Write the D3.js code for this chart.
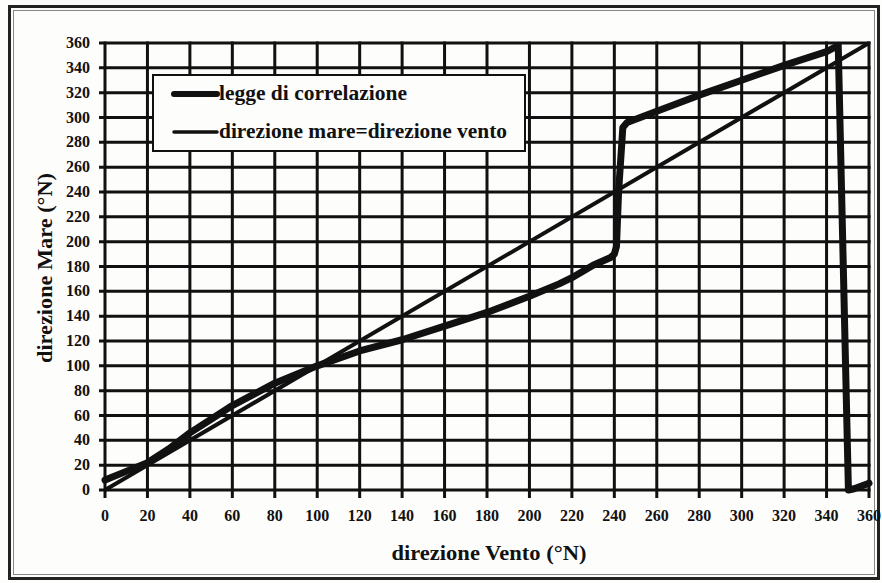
<!DOCTYPE html>
<html>
<head>
<meta charset="utf-8">
<script src="https://cdn.jsdelivr.net/npm/d3@7"></script>
<style>
  html, body { margin: 0; padding: 0; background: #fdfdfb; }
  svg { display: block; }
  text { font-family: "Liberation Serif", "Times New Roman", serif; font-weight: bold; fill: #111; }
</style>
</head>
<body>
<div id="chart"></div>
<script>
// direzione vento (°N) -> direzione mare (°N), legge di correlazione
const windDir = [0, 10, 20, 30, 40, 50, 60, 70, 80, 90, 100, 120, 140, 160, 180, 200, 214, 220, 230, 238, 240,
  241, 242, 244, 246, 260, 280, 300, 320, 340, 345.5, 350.3, 353, 360];
const seaDir = [8, 15, 22, 33, 46, 57, 68, 77, 86, 93, 100, 112, 121, 132, 143, 156, 166, 171, 181, 187, 190,
  196, 240, 292, 296, 305, 318, 330, 342, 353, 358, 0, 1, 5.5];
// bisettrice: direzione mare = direzione vento
const identity = [0, 360];
const xTicks = d3.range(0, 361, 20);
const yTicks = d3.range(0, 361, 20);
const legendLabels = ["legge di correlazione", "direzione mare=direzione vento"];

const W = 882,
  H = 583,
  M = { t: 43, r: 13, b: 93, l: 105 };

const svg = d3
  .select("#chart")
  .append("svg")
  .attr("width", W)
  .attr("height", H);

// cornice doppia
svg.append("rect")
  .attr("x", 9.5).attr("y", 6.5)
  .attr("width", 869).attr("height", 572)
  .attr("fill", "none").attr("stroke", "#222").attr("stroke-width", 3);
svg.append("rect")
  .attr("x", 13.5).attr("y", 10.5)
  .attr("width", 861).attr("height", 564)
  .attr("fill", "none").attr("stroke", "#888").attr("stroke-width", 1);

const x = d3.scaleLinear().domain([0, 360]).range([M.l, W - M.r]);
const y = d3.scaleLinear().domain([0, 360]).range([H - M.b, M.t]);

// griglia
const grid = svg.append("g").attr("stroke", "#111").attr("stroke-width", 3);
grid.selectAll(".gx")
  .data(xTicks)
  .enter()
  .append("line")
  .attr("x1", (d) => x(d)).attr("x2", (d) => x(d))
  .attr("y1", y(360) - 1.5).attr("y2", y(0) + 8);
grid.selectAll(".gy")
  .data(yTicks)
  .enter()
  .append("line")
  .attr("y1", (d) => y(d)).attr("y2", (d) => y(d))
  .attr("x1", x(0) - 6).attr("x2", x(360) + 1.5);

// etichette assi
svg.append("g")
  .selectAll("text")
  .data(xTicks)
  .enter()
  .append("text")
  .attr("x", (d) => x(d))
  .attr("y", y(0) + 31)
  .attr("text-anchor", "middle")
  .attr("font-size", "16px")
  .text((d) => d);
svg.append("g")
  .selectAll("text")
  .data(yTicks)
  .enter()
  .append("text")
  .attr("x", x(0) - 15)
  .attr("y", (d) => y(d) + 5)
  .attr("text-anchor", "end")
  .attr("font-size", "16px")
  .text((d) => d);

svg.append("text")
  .attr("x", 489)
  .attr("y", 560)
  .attr("text-anchor", "middle")
  .attr("font-size", "20px")
  .attr("textLength", 195)
  .attr("lengthAdjust", "spacingAndGlyphs")
  .text("direzione Vento (°N)");
svg.append("text")
  .attr("transform", `translate(52,${268}) rotate(-90)`)
  .attr("text-anchor", "middle")
  .attr("font-size", "20px")
  .attr("textLength", 190)
  .attr("lengthAdjust", "spacingAndGlyphs")
  .text("direzione Mare (°N)");

// serie
const pts = windDir.map((d, i) => [d, seaDir[i]]);
const line = d3.line().x((d) => x(d[0])).y((d) => y(d[1]));

svg.append("path")
  .datum(identity.map((d) => [d, d]))
  .attr("d", line)
  .attr("fill", "none")
  .attr("stroke", "#111")
  .attr("stroke-width", 4);

svg.append("path")
  .datum(pts)
  .attr("d", line)
  .attr("fill", "none")
  .attr("stroke", "#111")
  .attr("stroke-width", 7)
  .attr("stroke-linejoin", "round")
  .attr("stroke-linecap", "round");

// legenda
const lg = svg.append("g");
lg.append("rect")
  .attr("x", 153).attr("y", 75)
  .attr("width", 372).attr("height", 76)
  .attr("fill", "#fdfdfb")
  .attr("stroke", "#111")
  .attr("stroke-width", 2);
const rows = lg.selectAll(".row")
  .data(legendLabels)
  .enter()
  .append("g")
  .attr("transform", (d, i) => `translate(0,${94 + i * 38})`);
rows.append("line")
  .attr("x1", 174).attr("x2", 217)
  .attr("stroke", "#111")
  .attr("stroke-width", (d, i) => (i === 0 ? 6 : 3.5))
  .attr("stroke-linecap", "round");
rows.append("text")
  .attr("x", 219)
  .attr("y", 6)
  .attr("font-size", "20px")
  .attr("textLength", (d, i) => (i === 0 ? 188 : 288))
  .attr("lengthAdjust", "spacingAndGlyphs")
  .text((d) => d);
</script>
</body>
</html>
